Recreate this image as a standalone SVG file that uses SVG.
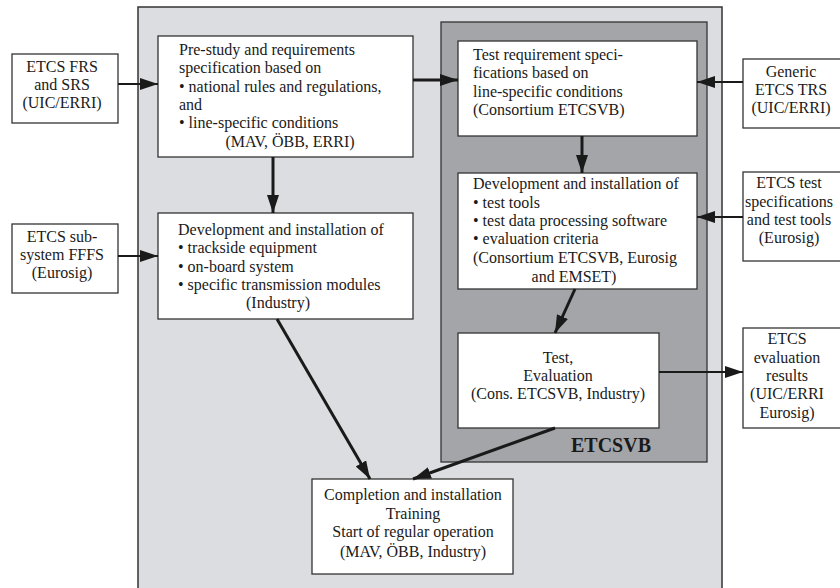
<svg xmlns="http://www.w3.org/2000/svg" width="840" height="588" viewBox="0 0 840 588">
<defs>
<style>
.bx{fill:#fff;stroke:#333;stroke-width:1.3}
text{font-family:"Liberation Serif","Times New Roman",serif;font-size:16px;fill:#1a1a1a}
.c{text-anchor:middle}
.ln{stroke:#1a1a1a;fill:none}
.t{stroke-width:3}
.n{stroke-width:2}
</style>
<marker id="ah" viewBox="0 0 18 12" refX="18" refY="6" markerWidth="18" markerHeight="12" markerUnits="userSpaceOnUse" orient="auto">
<path d="M0,0 L18,6 L0,12 z" fill="#1a1a1a"/>
</marker>
</defs>
<rect width="840" height="588" fill="#fff"/>
<g id="background">
<rect x="138" y="7" width="584" height="590" fill="#dcdde0" stroke="#333" stroke-width="1.5"/>
<rect x="441" y="22" width="266" height="440" fill="#a4a5a9" stroke="#333" stroke-width="1.3"/>
<text x="651" y="452" style="font-size:20px;font-weight:bold;text-anchor:end">ETCSVB</text>
</g>
<g id="frs">
<rect class="bx" x="12" y="54" width="106" height="69"/>
<text class="c" x="62" y="72">ETCS FRS</text>
<text class="c" x="62" y="90">and SRS</text>
<text class="c" x="62" y="108">(UIC/ERRI)</text>
</g>
<g id="subsystem">
<rect class="bx" x="12" y="224" width="106" height="69"/>
<text class="c" x="62" y="242">ETCS sub-</text>
<text class="c" x="62" y="260">system FFFS</text>
<text class="c" x="62" y="278">(Eurosig)</text>
</g>
<g id="prestudy">
<rect class="bx" x="158" y="36" width="255" height="121"/>
<text x="179" y="55">Pre-study and requirements</text>
<text x="179" y="73">specification based on</text>
<text x="179" y="92">• national rules and regulations,</text>
<text x="179" y="110">and</text>
<text x="179" y="128">• line-specific conditions</text>
<text class="c" x="290" y="147">(MAV, ÖBB, ERRI)</text>
</g>
<g id="devtrackside">
<rect class="bx" x="158" y="213" width="255" height="106"/>
<text x="178" y="235">Development and installation of</text>
<text x="178" y="253">• trackside equipment</text>
<text x="178" y="272">• on-board system</text>
<text x="178" y="290">• specific transmission modules</text>
<text class="c" x="278" y="308">(Industry)</text>
</g>
<g id="testreq">
<rect class="bx" x="458" y="41" width="239" height="95"/>
<text x="473" y="60">Test requirement speci-</text>
<text x="473" y="78">fications based on</text>
<text x="473" y="97">line-specific conditions</text>
<text x="473" y="115">(Consortium ETCSVB)</text>
</g>
<g id="devtools">
<rect class="bx" x="458" y="173" width="239" height="116"/>
<text x="473" y="189">Development and installation of</text>
<text x="473" y="208">• test tools</text>
<text x="473" y="226">• test data processing software</text>
<text x="473" y="244">• evaluation criteria</text>
<text x="473" y="263">(Consortium ETCSVB, Eurosig</text>
<text class="c" x="574" y="282">and EMSET)</text>
</g>
<g id="testeval">
<rect class="bx" x="458" y="333" width="201" height="95"/>
<text class="c" x="558" y="363">Test,</text>
<text class="c" x="558" y="381">Evaluation</text>
<text class="c" x="558" y="399">(Cons.  ETCSVB, Industry)</text>
</g>
<g id="completion">
<rect class="bx" x="312" y="479" width="201" height="95"/>
<text class="c" x="413" y="500">Completion and installation</text>
<text class="c" x="413" y="519">Training</text>
<text class="c" x="413" y="537">Start of regular operation</text>
<text class="c" x="413" y="557">(MAV, ÖBB, Industry)</text>
</g>
<g id="generic">
<rect class="bx" x="743" y="59" width="110" height="69"/>
<text class="c" x="791" y="77">Generic</text>
<text class="c" x="791" y="95">ETCS TRS</text>
<text class="c" x="791" y="113">(UIC/ERRI)</text>
</g>
<g id="testspecs">
<rect class="bx" x="743" y="172" width="110" height="89"/>
<text class="c" x="789" y="188">ETCS test</text>
<text class="c" x="789" y="207">specifications</text>
<text class="c" x="789" y="225">and test tools</text>
<text class="c" x="789" y="243">(Eurosig)</text>
</g>
<g id="results">
<rect class="bx" x="743" y="328" width="110" height="100"/>
<text class="c" x="787" y="344">ETCS</text>
<text class="c" x="787" y="363">evaluation</text>
<text class="c" x="787" y="381">results</text>
<text class="c" x="787" y="399">(UIC/ERRI</text>
<text class="c" x="787" y="418">Eurosig)</text>
</g>
<g id="connectors">
<line class="ln n" x1="118" y1="84" x2="158" y2="84" marker-end="url(#ah)"/>
<line class="ln n" x1="118" y1="256" x2="158" y2="256" marker-end="url(#ah)"/>
<line class="ln t" x1="413" y1="80" x2="458" y2="80" marker-end="url(#ah)"/>
<line class="ln n" x1="743" y1="82" x2="697" y2="82" marker-end="url(#ah)"/>
<line class="ln n" x1="743" y1="217" x2="697" y2="217" marker-end="url(#ah)"/>
<line class="ln t" x1="273" y1="157" x2="273" y2="213" marker-end="url(#ah)"/>
<line class="ln t" x1="582" y1="136" x2="582" y2="173" marker-end="url(#ah)"/>
<line class="ln t" x1="575" y1="289" x2="555" y2="333" marker-end="url(#ah)"/>
<line class="ln n" x1="659" y1="372" x2="743" y2="372" marker-end="url(#ah)"/>
<line class="ln t" x1="277" y1="319" x2="370" y2="479" marker-end="url(#ah)"/>
<line class="ln t" x1="555" y1="428" x2="413" y2="479" marker-end="url(#ah)"/>
</g>
</svg>
